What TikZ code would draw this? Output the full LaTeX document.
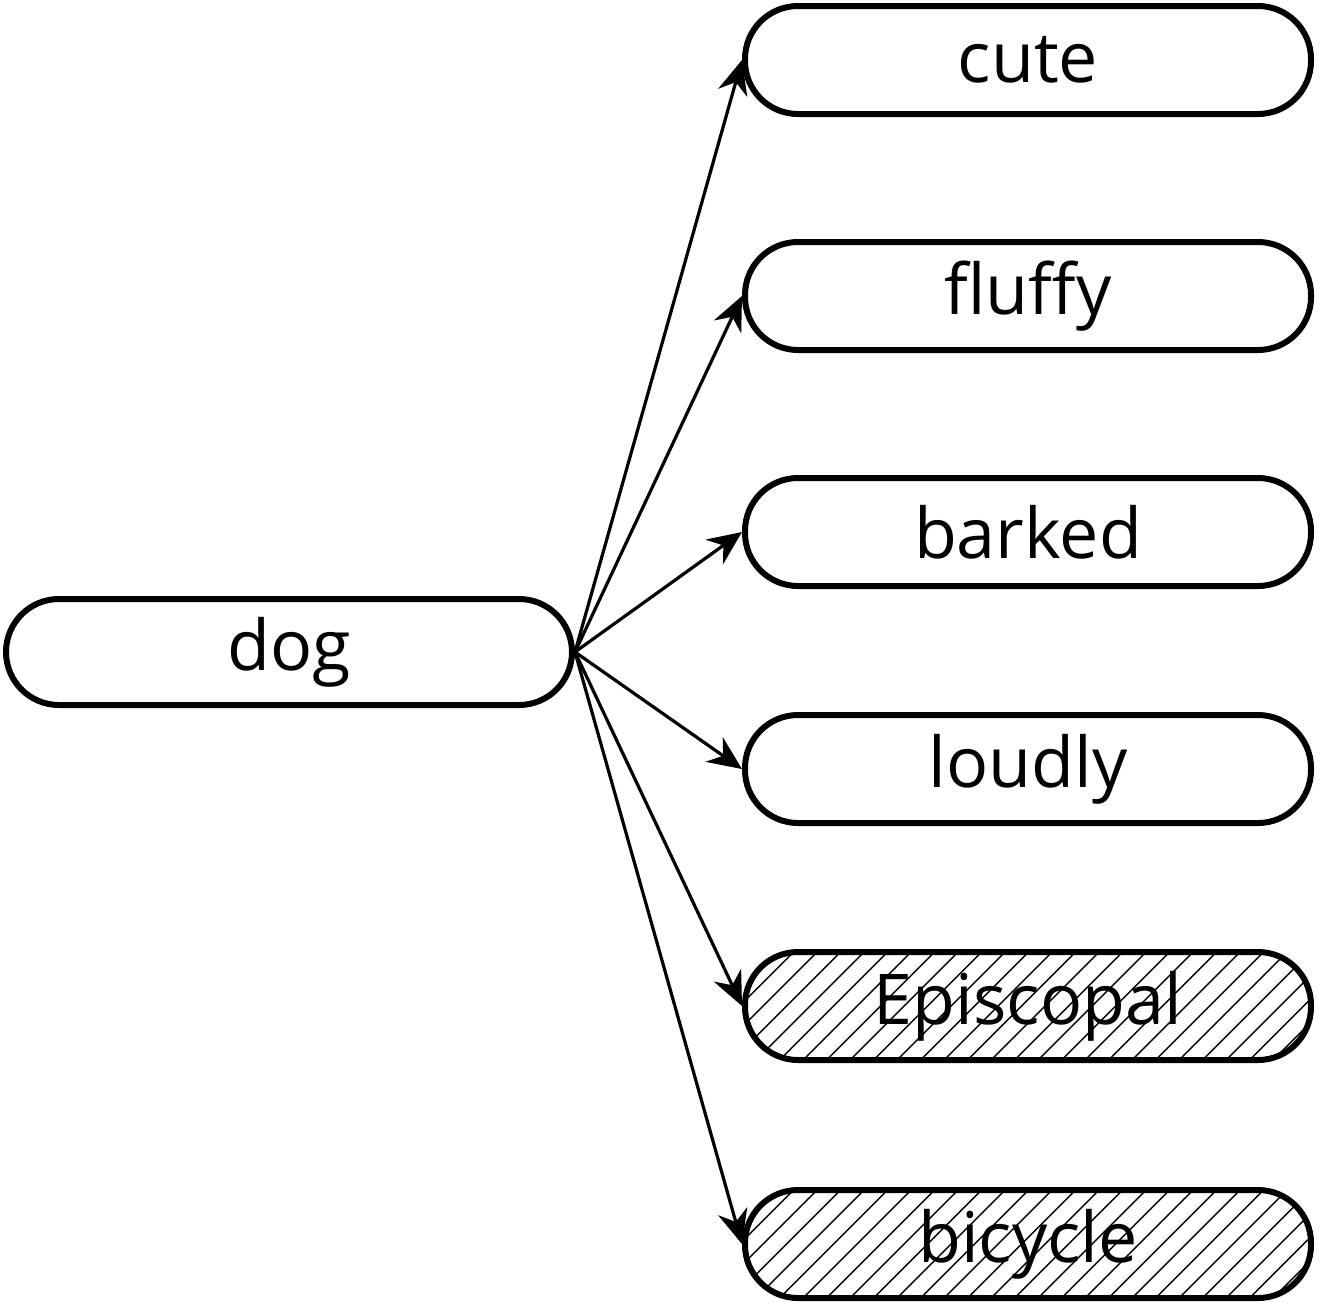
\documentclass[tikz,border=0pt]{standalone}
\usepackage{fontspec}
\setmainfont{Open Sans}
\usetikzlibrary{arrows.meta}
\begin{document}
\begin{tikzpicture}[x=1pt,y=-1pt,
  wordbox/.style={draw,line width=6pt,rounded corners=53pt,minimum width=566pt,minimum height=108pt,inner sep=0pt,font=\fontsize{70}{80}\selectfont},
  hatched/.style={path picture={
     \foreach \i in {0,...,32}
       \draw[line width=1.4pt] ([xshift=\i*23.5pt-130pt]path picture bounding box.south west) -- ++(140pt,140pt);}},
  link/.style={line width=3.2pt,-{Stealth[length=34pt,width=30pt,inset=11pt]}}]
\useasboundingbox (0,0) rectangle (1320,1304);
\node[wordbox,minimum height=106pt] (dog) at (289,652) {dog};
\node[wordbox] (cute) at (1028,60) {cute};
\node[wordbox] (fluffy) at (1028,296) {fluffy};
\node[wordbox] (barked) at (1028,532) {barked};
\node[wordbox] (loudly) at (1028,769) {loudly};
\node[wordbox,hatched] (epis) at (1028,1006) {Episcopal};
\node[wordbox,hatched] (bike) at (1028,1244) {bicycle};
\foreach \t in {cute,fluffy,barked,loudly,epis,bike}
  \draw[link] (dog.east) -- (\t.west);
\end{tikzpicture}
\end{document}
